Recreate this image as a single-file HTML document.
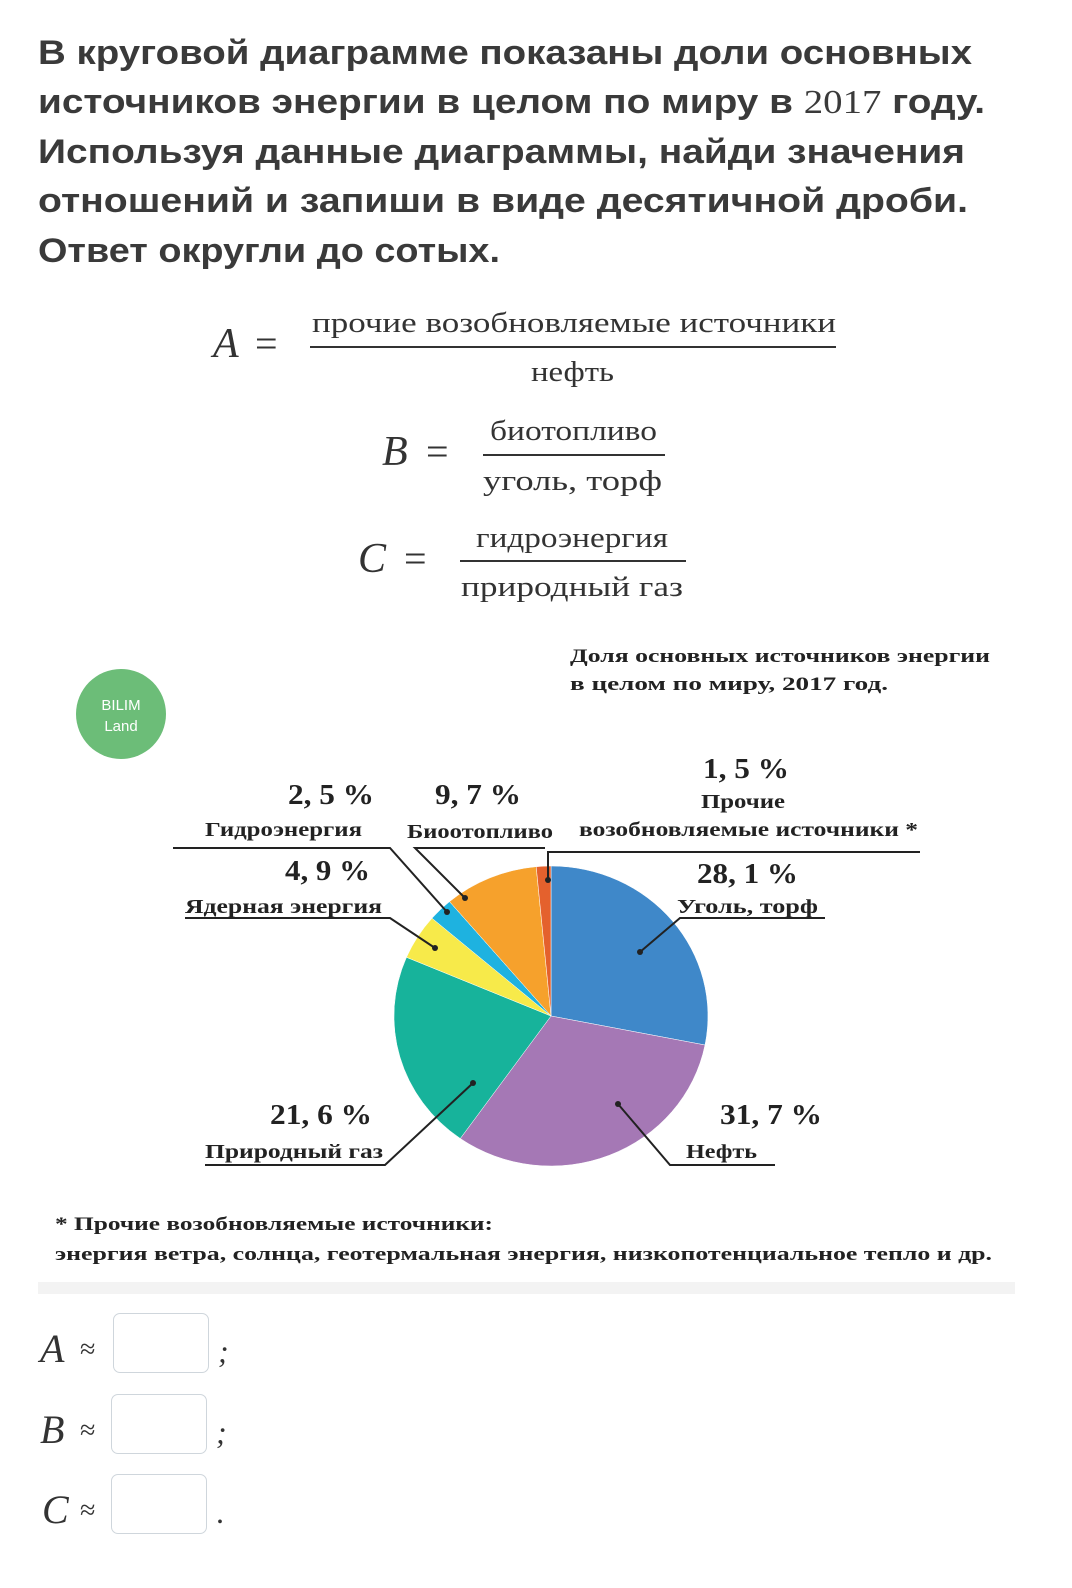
<!DOCTYPE html>
<html><head><meta charset="utf-8"><style>
body{margin:0;background:#fff;}
.w{position:relative;width:1072px;height:1588px;overflow:hidden;font-family:"Liberation Serif",serif;color:#333;}
.a{position:absolute;white-space:nowrap;}
.box{position:absolute;width:94px;height:58px;border:1.5px solid #cfd6dc;border-radius:7px;background:#fff;}
</style></head><body><div class="w">
<svg class="a" style="left:0;top:0" width="1072" height="1588">
<g font-family="Liberation Sans,sans-serif" font-weight="bold" font-size="34" fill="#3a3a3a" lengthAdjust="spacingAndGlyphs">
<text x="38" y="64" textLength="934" lengthAdjust="spacingAndGlyphs">В круговой диаграмме показаны доли основных</text>
<text x="38" y="113" textLength="947" lengthAdjust="spacingAndGlyphs">источников энергии в целом по миру в <tspan font-family="Liberation Serif,serif" font-weight="normal">2017</tspan> году.</text>
<text x="38" y="163" textLength="927" lengthAdjust="spacingAndGlyphs">Используя данные диаграммы, найди значения</text>
<text x="38" y="212" textLength="930" lengthAdjust="spacingAndGlyphs">отношений и запиши в виде десятичной дроби.</text>
<text x="38" y="262" textLength="462" lengthAdjust="spacingAndGlyphs">Ответ округли до сотых.</text>
</g>
<g font-family="Liberation Serif,serif" fill="#333">
<text x="213" y="357" font-size="42" font-style="italic">A</text><text x="255" y="357" font-size="40">=</text>
<text x="312" y="332" font-size="28" textLength="524" lengthAdjust="spacingAndGlyphs">прочие  возобновляемые  источники</text>
<line x1="310" y1="347" x2="836" y2="347" stroke="#333" stroke-width="2"/>
<text x="531" y="381" font-size="28" textLength="83" lengthAdjust="spacingAndGlyphs">нефть</text>
<text x="382" y="465" font-size="42" font-style="italic">B</text><text x="426" y="465" font-size="40">=</text>
<text x="490" y="440" font-size="28" textLength="167" lengthAdjust="spacingAndGlyphs">биотопливо</text>
<line x1="483" y1="455" x2="665" y2="455" stroke="#333" stroke-width="2"/>
<text x="483" y="490" font-size="28" textLength="179" lengthAdjust="spacingAndGlyphs">уголь,  торф</text>
<text x="358" y="572" font-size="42" font-style="italic">C</text><text x="404" y="572" font-size="40">=</text>
<text x="476" y="547" font-size="28" textLength="192" lengthAdjust="spacingAndGlyphs">гидроэнергия</text>
<line x1="460" y1="561" x2="686" y2="561" stroke="#333" stroke-width="2"/>
<text x="461" y="596" font-size="28" textLength="222" lengthAdjust="spacingAndGlyphs">природный  газ</text>
</g>
<circle cx="121" cy="714" r="45" fill="#6cbd78"/>
<text x="121" y="710" font-family="Liberation Sans,sans-serif" font-size="15" fill="#fff" text-anchor="middle">BILIM</text>
<text x="121" y="731" font-family="Liberation Sans,sans-serif" font-size="15" fill="#fff" text-anchor="middle">Land</text>
<g font-family="Liberation Serif,serif" font-weight="bold" fill="#222">
<text x="570" y="662" font-size="19" textLength="420" lengthAdjust="spacingAndGlyphs">Доля  основных  источников  энергии</text>
<text x="570" y="690" font-size="19" textLength="318" lengthAdjust="spacingAndGlyphs">в  целом  по  миру,  2017  год.</text>
</g>
<g stroke="#fff" stroke-width="0.5">
<path d="M551 1016 L551 866 A157 150 0 0 1 705 1045 Z" fill="#3f88c9"/>
<path d="M551 1016 L705 1045 A157 150 0 0 1 460.3 1138.5 Z" fill="#a578b5"/>
<path d="M551 1016 L460.3 1138.5 A157 150 0 0 1 406.5 957.3 Z" fill="#17b39b"/>
<path d="M551 1016 L406.5 957.3 A157 150 0 0 1 432 918.2 Z" fill="#f7ea4a"/>
<path d="M551 1016 L432 918.2 A157 150 0 0 1 449.5 901.6 Z" fill="#1eb2e0"/>
<path d="M551 1016 L449.5 901.6 A157 150 0 0 1 536.2 866.7 Z" fill="#f6a12c"/>
<path d="M551 1016 L536.2 866.7 A157 150 0 0 1 551 866 Z" fill="#e4612d"/>
</g>
<g stroke="#222" stroke-width="2" fill="none">
<polyline points="173,848 390,848 447,912"/>
<polyline points="545,848 415,848 465,898"/>
<polyline points="920,852 548,852 548,880"/>
<polyline points="825,918 680,918 640,952"/>
<polyline points="185,918 390,918 435,948"/>
<polyline points="205,1165 385,1165 473,1083"/>
<polyline points="775,1165 670,1165 618,1104"/>
</g>
<g fill="#222"><circle cx="640" cy="952" r="3"/><circle cx="618" cy="1104" r="3"/><circle cx="473" cy="1083" r="3"/><circle cx="435" cy="948" r="3"/><circle cx="447" cy="912" r="3"/><circle cx="465" cy="898" r="3"/><circle cx="548" cy="880" r="3"/></g>
<g font-family="Liberation Serif,serif" font-weight="bold" fill="#222">
<text x="288" y="804" font-size="28" textLength="86" lengthAdjust="spacingAndGlyphs">2, 5 %</text>
<text x="205" y="836" font-size="20" textLength="157" lengthAdjust="spacingAndGlyphs">Гидроэнергия</text>
<text x="435" y="804" font-size="28" textLength="86" lengthAdjust="spacingAndGlyphs">9, 7 %</text>
<text x="407" y="838" font-size="20" textLength="146" lengthAdjust="spacingAndGlyphs">Биоотопливо</text>
<text x="703" y="778" font-size="28" textLength="86" lengthAdjust="spacingAndGlyphs">1, 5 %</text>
<text x="701" y="808" font-size="20" textLength="84" lengthAdjust="spacingAndGlyphs">Прочие</text>
<text x="579" y="836" font-size="20" textLength="339" lengthAdjust="spacingAndGlyphs">возобновляемые  источники  *</text>
<text x="285" y="880" font-size="28" textLength="85" lengthAdjust="spacingAndGlyphs">4, 9 %</text>
<text x="185" y="913" font-size="20" textLength="197" lengthAdjust="spacingAndGlyphs">Ядерная  энергия</text>
<text x="697" y="883" font-size="28" textLength="101" lengthAdjust="spacingAndGlyphs">28, 1 %</text>
<text x="677" y="913" font-size="20" textLength="141" lengthAdjust="spacingAndGlyphs">Уголь,  торф</text>
<text x="270" y="1124" font-size="28" textLength="102" lengthAdjust="spacingAndGlyphs">21, 6 %</text>
<text x="205" y="1158" font-size="20" textLength="178" lengthAdjust="spacingAndGlyphs">Природный  газ</text>
<text x="720" y="1124" font-size="28" textLength="102" lengthAdjust="spacingAndGlyphs">31, 7 %</text>
<text x="686" y="1158" font-size="20" textLength="71" lengthAdjust="spacingAndGlyphs">Нефть</text>
<text x="55" y="1230" font-size="19" textLength="438" lengthAdjust="spacingAndGlyphs">* Прочие  возобновляемые  источники:</text>
<text x="55" y="1260" font-size="19" textLength="937" lengthAdjust="spacingAndGlyphs">энергия  ветра,  солнца,  геотермальная  энергия,  низкопотенциальное  тепло  и  др.</text>
</g>
<rect x="38" y="1282" width="977" height="12" fill="#f3f3f3"/>
<g font-family="Liberation Serif,serif" fill="#333">
<text x="40" y="1362" font-size="40" font-style="italic">A</text><text x="80" y="1358" font-size="28">≈</text><text x="218" y="1362" font-size="32" font-style="italic">;</text>
<text x="40" y="1443" font-size="40" font-style="italic">B</text><text x="80" y="1439" font-size="28">≈</text><text x="216" y="1443" font-size="32" font-style="italic">;</text>
<text x="42" y="1523" font-size="40" font-style="italic">C</text><text x="80" y="1519" font-size="28">≈</text><text x="216" y="1523" font-size="32">.</text>
</g>
</svg>
<div class="box" style="left:113px;top:1313px"></div>
<div class="box" style="left:111px;top:1394px"></div>
<div class="box" style="left:111px;top:1474px"></div>
</div></body></html>
